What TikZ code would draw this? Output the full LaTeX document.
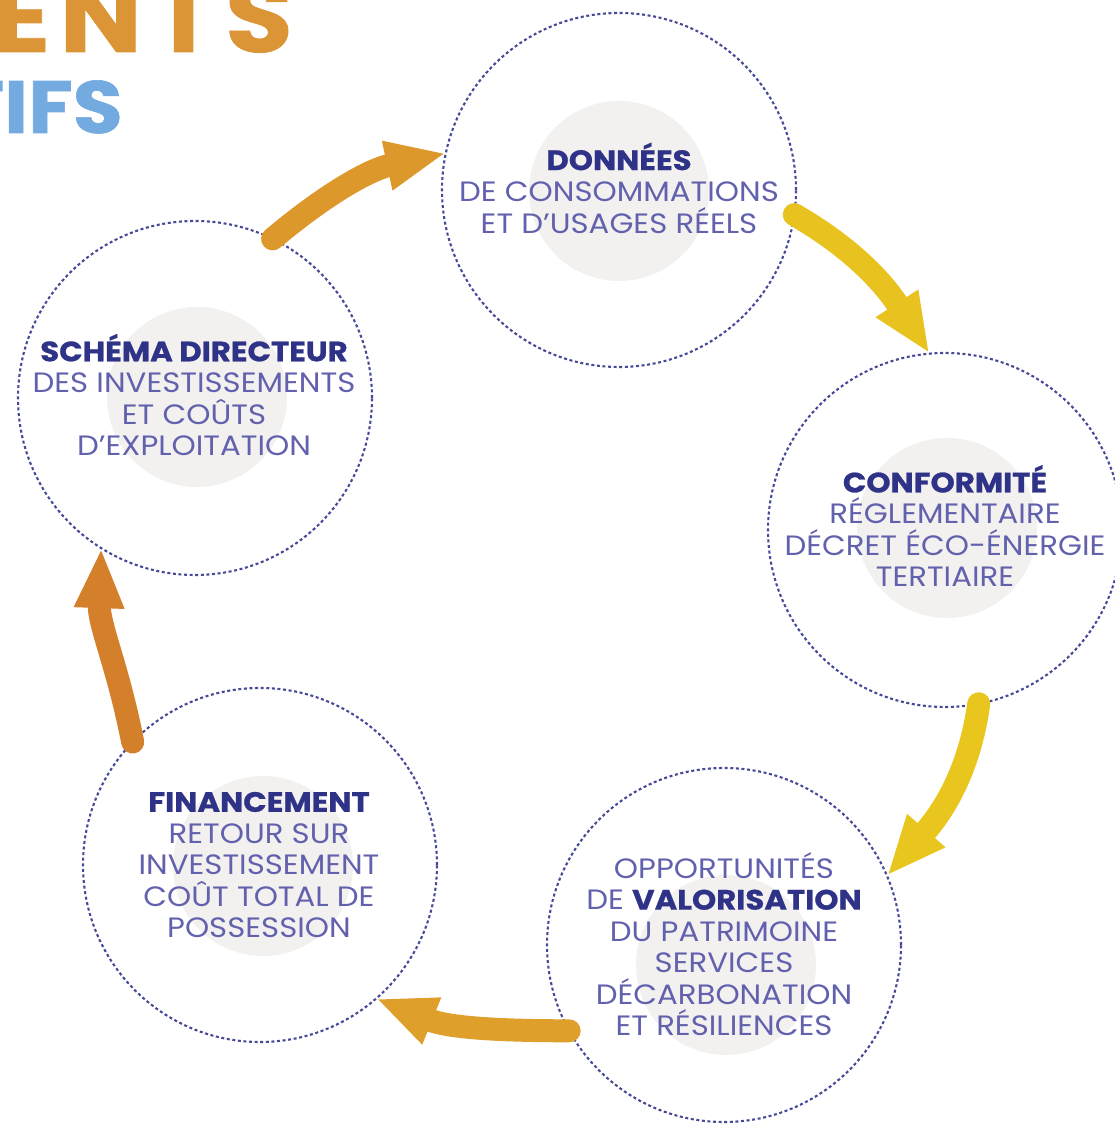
\documentclass[tikz,border=0pt]{standalone}
\usepackage{fontspec}
\setmainfont{Poppins}[FakeStretch=1.1, BoldFeatures={FakeBold=0.8}]
\usetikzlibrary{arrows.meta}

\definecolor{navy}{HTML}{2F3387}
\definecolor{lightink}{HTML}{6261AE}
\definecolor{ringc}{HTML}{464A96}
\definecolor{discc}{HTML}{F3F1EF}
\definecolor{flowA}{HTML}{DC982B}
\definecolor{flowB}{HTML}{E8C21F}
\definecolor{flowC}{HTML}{E9C61D}
\definecolor{flowD}{HTML}{DEA02A}
\definecolor{flowE}{HTML}{D4802B}
\definecolor{titleorange}{HTML}{DC9536}
\definecolor{titleblue}{HTML}{73AADF}

\tikzset{
  ring/.style={circle, draw=ringc, line width=2.1pt, dash pattern=on 3pt off 2.6pt,
    minimum size=354pt, inner sep=0pt, outer sep=0pt},
  disc/.style={circle, fill=discc, minimum size=180pt, inner sep=0pt, outer sep=0pt},
  label/.style={align=center, text=lightink, inner sep=0pt,
    font=\fontsize{28}{31.5}\selectfont},
  flow/.style={line width=23pt, line cap=round, -{Triangle[length=60pt,width=46pt]}},
}
\newcommand{\headword}[1]{\textcolor{navy}{\bfseries #1}}

\begin{document}
\begin{tikzpicture}[x=1pt,y=1pt]
\useasboundingbox (0,0) rectangle (1115,1124);
\clip (0,0) rectangle (1115,1124);

% title fragments in the top-left corner
\node[anchor=base east, inner sep=0pt, text=titleorange,
  font=\fontsize{100}{100}\selectfont\bfseries\addfontfeatures{LetterSpace=9}] (titleA) at (293,1072) {ENTS};
\node[anchor=base east, inner sep=0pt, text=titleblue,
  font=\fontsize{74}{74}\selectfont\bfseries] (titleB) at (123,991) {TIFS};

% soft grey discs behind the texts
\node[disc] (dd) at (619,933) {};
\node[disc] (cd) at (947,596) {};
\node[disc] (vd) at (726,159) {};
\node[disc] (fd) at (263,258) {};
\node[disc] (sd) at (197,727) {};

% dotted rings
\node[ring] (d) at (619,934) {};
\node[ring] (c) at (945,594) {};
\node[ring] (v) at (724,179) {};
\node[ring] (f) at (260,259) {};
\node[ring] (s) at (195,726) {};

% texts
\node[label] (dt) at (619,936) {\headword{DONNÉES}\\DE CONSOMMATIONS\\ET D’USAGES RÉELS};
\node[label] (ct) at (945,598) {\headword{CONFORMITÉ}\\RÉGLEMENTAIRE\\DÉCRET ÉCO-ÉNERGIE\\TERTIAIRE};
\node[label] (vt) at (724,180) {OPPORTUNITÉS\\DE \headword{VALORISATION}\\DU PATRIMOINE\\SERVICES\\DÉCARBONATION\\ET RÉSILIENCES};
\node[label] (ft) at (259,259) {\headword{FINANCEMENT}\\RETOUR SUR\\INVESTISSEMENT\\COÛT TOTAL DE\\POSSESSION};
\node[label] (st) at (194,729) {\headword{SCHÉMA DIRECTEUR}\\DES INVESTISSEMENTS\\ET COÛTS\\D’EXPLOITATION};

% cycle arrows
\draw[flow, flowA] (s.64)  to[out=40,  in=192] (d.168);
\draw[flow, flowB] (d.-8)  to[out=-30, in=123] (c.95);
\draw[flow, flowC] (c.-79) to[out=-98, in=49]  (v.23);
\draw[flow, flowD] (v.209) to[out=180, in=-22] (f.-49);
\draw[flow, flowE] (f.136) to[out=101, in=-92] (s.238);
\end{tikzpicture}
\end{document}
